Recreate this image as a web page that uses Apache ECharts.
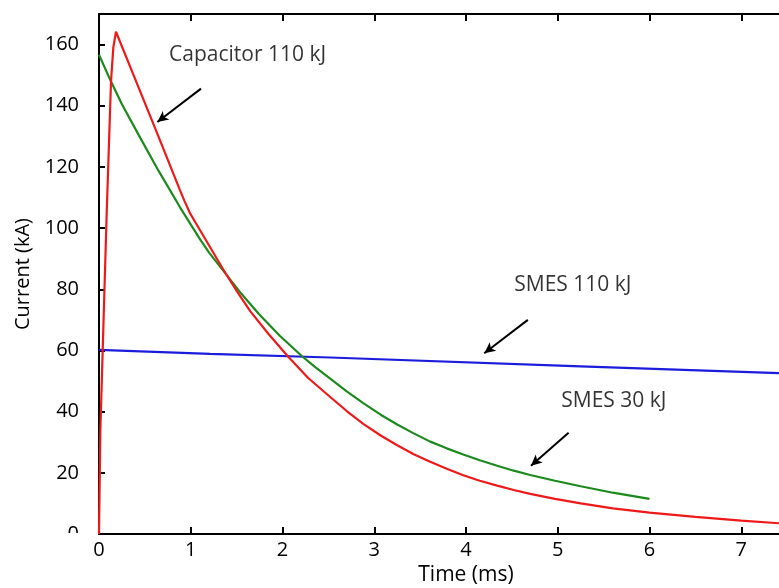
<!DOCTYPE html>
<html>
<head>
<meta charset="utf-8">
<script src="https://cdn.jsdelivr.net/npm/echarts@6/dist/echarts.min.js"></script>
<style>
html,body{margin:0;padding:0;background:#fff;}
#chart{width:779px;height:588px;}
</style>
</head>
<body>
<div id="chart"></div>
<script>
// ---- data ----
var capTime  = [0, 0.015, 0.047, 0.084, 0.131, 0.156, 0.185, 0.40, 0.63, 0.88, 0.93, 0.99, 1.05, 1.10, 1.20, 1.356, 1.50, 1.65, 1.85, 2.06, 2.28, 2.52, 2.70, 2.88, 3.07, 3.25, 3.43, 3.61, 3.79, 3.97, 4.15, 4.34, 4.52, 4.70, 4.97, 5.25, 5.60, 6.0, 6.5, 7.0, 7.42];
var capValue = [0, 34, 67, 105, 148, 159, 164.2, 148.3, 131.3, 112.6, 109.0, 105.0, 101.9, 99.4, 94.3, 86.4, 79.5, 72.8, 65.3, 58.0, 51.0, 44.8, 40.2, 36.0, 32.2, 29.0, 26.1, 23.6, 21.3, 19.2, 17.4, 15.8, 14.4, 13.1, 11.5, 10.0, 8.4, 7.0, 5.6, 4.4, 3.5];

var smes30Time  = [0, 0.131, 0.25, 0.45, 0.65, 0.883, 1.10, 1.20, 1.356, 1.55, 1.74, 1.97, 2.21, 2.36, 2.52, 2.70, 2.88, 3.07, 3.25, 3.43, 3.61, 3.79, 3.97, 4.15, 4.34, 4.52, 4.70, 4.97, 5.25, 5.60, 6.0];
var smes30Value = [156.7, 147.9, 140.5, 129.5, 118.7, 106.8, 96.4, 92.0, 86.0, 78.6, 72.0, 64.8, 58.2, 54.5, 50.8, 46.6, 42.8, 39.0, 35.8, 32.9, 30.2, 28.0, 26.0, 24.1, 22.3, 20.7, 19.3, 17.4, 15.6, 13.5, 11.5];

var smes110Time  = [0, 1.21, 2.52, 5.25, 7.42];
var smes110Value = [60.2, 58.9, 57.7, 54.8, 52.6];

var yTicks = [0, 20, 40, 60, 80, 100, 120, 140, 160];
var xTicks = [0, 1, 2, 3, 4, 5, 6, 7, 8];

var labelNames = ['Capacitor 110 kJ', 'SMES 110 kJ', 'SMES 30 kJ'];
var labelAt    = [[0.763, 156.7], [4.526, 81.5], [5.038, 43.4]];
var arrowFrom  = [[1.112, 145.6], [4.674, 70.0], [5.118, 33.1]];
var arrowTo    = [[0.636, 134.7], [4.199, 59.1], [4.708, 22.3]];

function zip(a, b) { return a.map(function (v, i) { return [v, b[i]]; }); }

var FONT = 'Open Sans';
var chart = echarts.init(document.getElementById('chart'), null, {renderer: 'canvas'});

var axisLineStyle = {color: '#000', width: 2};

chart.setOption({
  animation: false,
  backgroundColor: '#fff',
  grid: {left: 99, top: 14, width: 734, height: 520, containLabel: false, outerBoundsMode: 'none'},
  xAxis: [{
    type: 'value', min: 0, max: 8, interval: 1,
    name: 'Time (ms)', nameLocation: 'middle', nameGap: 29,
    nameTextStyle: {fontFamily: FONT, fontSize: 21, color: '#000'},
    axisLine: {show: true, onZero: false, lineStyle: axisLineStyle},
    axisTick: {show: true, inside: true, length: 7, lineStyle: {color: '#000', width: 2}},
    axisLabel: {fontFamily: FONT, fontSize: 20, color: '#000', margin: 6,
      formatter: function (v) { return xTicks.indexOf(v) >= 0 ? String(v) : ''; }},
    splitLine: {show: false}
  }, {
    type: 'value', min: 0, max: 8, interval: 1, position: 'top',
    axisLine: {show: true, onZero: false, lineStyle: axisLineStyle},
    axisTick: {show: true, inside: true, length: 7, lineStyle: {color: '#000', width: 2}},
    axisLabel: {show: false},
    splitLine: {show: false}
  }],
  yAxis: {
    type: 'value', min: 0, max: 170, interval: 20,
    name: 'Current (kA)', nameLocation: 'middle', nameGap: 64, nameRotate: 90,
    nameTextStyle: {fontFamily: FONT, fontSize: 20, color: '#000'},
    axisLine: {show: true, onZero: false, lineStyle: axisLineStyle},
    axisTick: {show: true, inside: true, length: 6, lineStyle: {color: '#000', width: 2}},
    axisLabel: {fontFamily: FONT, fontSize: 20, color: '#000', margin: 20,
      formatter: function (v) { return yTicks.indexOf(v) >= 0 ? String(v) : ''; }},
    splitLine: {show: false}
  },
  series: [
    {
      name: 'SMES 110 kJ', type: 'line', showSymbol: false, z: 3,
      data: zip(smes110Time, smes110Value),
      lineStyle: {color: '#1c1cdc', width: 2.2},
      markLine: {
        silent: true, symbol: ['none', 'arrow'], symbolSize: [8, 11],
        lineStyle: {color: '#000', width: 2, type: 'solid'},
        label: {show: false},
        data: arrowFrom.map(function (f, i) { return [{coord: f}, {coord: arrowTo[i]}]; })
      }
    },
    {
      name: 'SMES 30 kJ', type: 'line', showSymbol: false, z: 4,
      data: zip(smes30Time, smes30Value),
      lineStyle: {color: '#1d8a1d', width: 2.2}
    },
    {
      name: 'Capacitor 110 kJ', type: 'line', showSymbol: false, z: 5,
      data: zip(capTime, capValue),
      lineStyle: {color: '#ee1a1a', width: 2.2}
    },
    {
      name: 'labels', type: 'scatter', symbolSize: 0, silent: true,
      data: labelAt.map(function (p, i) { return {value: p, name: labelNames[i]}; }),
      label: {show: true, position: 'right', distance: 0, formatter: '{b}',
        fontFamily: FONT, fontSize: 21, color: '#000'}
    }
  ],
  graphic: [{
    type: 'rect', z: 100, shape: {x: 55, y: 533, width: 36, height: 14},
    style: {fill: '#fff'}
  }]
});
</script>
</body>
</html>
